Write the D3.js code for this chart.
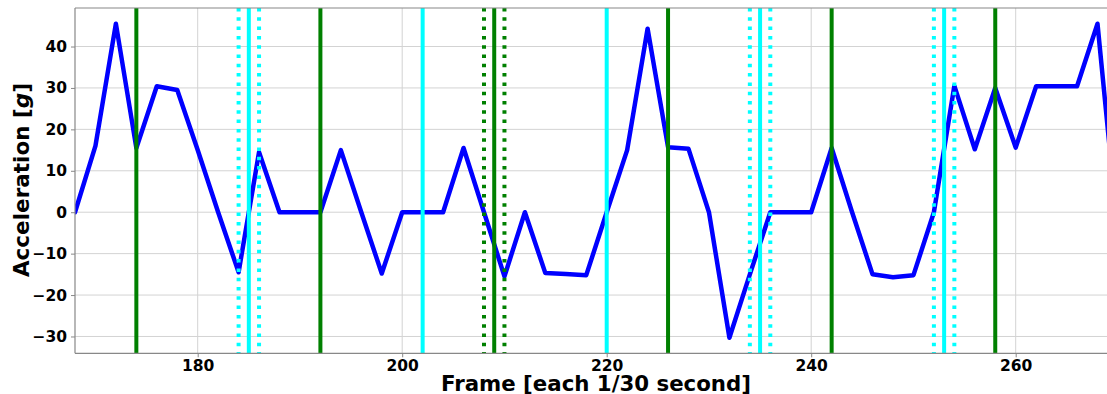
<!DOCTYPE html>
<html>
<head>
<meta charset="utf-8">
<script src="https://cdn.jsdelivr.net/npm/d3@7"></script>
<style>
  html, body { margin: 0; padding: 0; background: #fff; }
  svg { display: block; }
  text { font-family: "DejaVu Sans", sans-serif; font-weight: bold; fill: #000; }
</style>
</head>
<body>
<svg id="chart" width="1107" height="394"></svg>
<script>
// Acceleration samples, one every two frames
const frames = [168, 170, 172, 174, 176, 178, 180, 182, 184, 186, 188, 190, 192, 194, 196, 198,
  200, 202, 204, 206, 208, 210, 212, 214, 216, 218, 220, 222, 224, 226, 228, 230, 232, 234,
  236, 238, 240, 242, 244, 246, 248, 250, 252, 254, 256, 258, 260, 262, 264, 266, 268, 270];
const accel = [0, 16, 45.5, 15.5, 30.4, 29.5, 15, 0, -14.5, 14.5, 0, 0, 0, 15, 0, -14.8,
  0, 0, 0, 15.5, 0, -15.5, 0, -14.7, -14.9, -15.2, 0, 15, 44.3, 15.7, 15.3, 0, -30.3, -15,
  0, 0, 0, 15.5, 0, -15, -15.7, -15.2, 0, 30.5, 15.2, 30, 15.6, 30.4, 30.4, 30.4, 45.5, -5];

// Event markers
const greenSolid = [174, 192, 209, 226, 242, 258];
const greenDotted = [208, 210];
const cyanSolid = [185, 202, 220, 235, 253];
const cyanDotted = [184, 186, 234, 236, 252, 254];

const xTicks = [180, 200, 220, 240, 260];
const yTicks = [-30, -20, -10, 0, 10, 20, 30, 40];

const margin = { left: 75, top: 8, bottom: 353.3 };
const xDomain = [168, 270];
const pxPerFrame = 10.225;
const plotRight = margin.left + (xDomain[1] - xDomain[0]) * pxPerFrame;

const x = d3.scaleLinear().domain(xDomain).range([margin.left, plotRight]);
const y = d3.scaleLinear().domain([-34.06, 49.3]).range([margin.bottom, margin.top]);

const svg = d3.select("#chart");

svg.append("defs").append("clipPath").attr("id", "plot-clip")
  .append("rect")
  .attr("x", margin.left).attr("y", margin.top)
  .attr("width", plotRight - margin.left).attr("height", margin.bottom - margin.top);

// Grid
const grid = svg.append("g").attr("stroke", "#d3d3d3").attr("stroke-width", 1);
grid.selectAll("line.gx").data(xTicks).join("line")
  .attr("x1", d => x(d)).attr("x2", d => x(d))
  .attr("y1", margin.top).attr("y2", margin.bottom);
grid.selectAll("line.gy").data(yTicks).join("line")
  .attr("x1", margin.left).attr("x2", plotRight)
  .attr("y1", d => y(d)).attr("y2", d => y(d));

const plot = svg.append("g").attr("clip-path", "url(#plot-clip)");

// Acceleration trace
const line = d3.line().x((d, i) => x(frames[i])).y(d => y(d));
plot.append("path")
  .datum(accel)
  .attr("d", line)
  .attr("fill", "none")
  .attr("stroke", "#0000ff")
  .attr("stroke-width", 4.5)
  .attr("stroke-linejoin", "round")
  .attr("stroke-linecap", "round");

// Vertical markers
function vlines(data, color, dashed) {
  plot.append("g").selectAll("line").data(data).join("line")
    .attr("x1", d => x(d)).attr("x2", d => x(d))
    .attr("y1", margin.top).attr("y2", margin.bottom)
    .attr("stroke", color)
    .attr("stroke-width", 4)
    .attr("stroke-dasharray", dashed ? "3.5,5.8" : null);
}
vlines(greenDotted, "#008000", true);
vlines(cyanDotted, "#00ffff", true);
vlines(greenSolid, "#008000", false);
vlines(cyanSolid, "#00ffff", false);

// Axes
const xAxis = d3.axisBottom(x).tickValues(xTicks).tickSize(4).tickPadding(3)
  .tickFormat(d3.format("d"));
const yAxis = d3.axisLeft(y).tickValues(yTicks).tickSize(4).tickPadding(4)
  .tickFormat(d => d < 0 ? "\u2212" + Math.abs(d) : String(d));

const gx = svg.append("g").attr("transform", `translate(0,${margin.bottom})`).call(xAxis);
const gy = svg.append("g").attr("transform", `translate(${margin.left},0)`).call(yAxis);
[gx, gy].forEach(g => {
  g.select(".domain").remove();
  g.selectAll(".tick line").attr("stroke", "#888");
  g.selectAll(".tick text").attr("font-size", 15.5).attr("font-family", "DejaVu Sans")
    .attr("font-weight", "bold").attr("fill", "#000");
});

// Spines
svg.append("line").attr("x1", margin.left).attr("x2", margin.left)
  .attr("y1", margin.top).attr("y2", margin.bottom).attr("stroke", "#888").attr("stroke-width", 1.2);
svg.append("line").attr("x1", margin.left).attr("x2", plotRight)
  .attr("y1", margin.bottom).attr("y2", margin.bottom).attr("stroke", "#888").attr("stroke-width", 1.2);
svg.append("line").attr("x1", margin.left).attr("x2", plotRight)
  .attr("y1", margin.top).attr("y2", margin.top).attr("stroke", "#888").attr("stroke-width", 1.2);

// Axis labels
svg.append("text")
  .attr("x", 596).attr("y", 391)
  .attr("text-anchor", "middle")
  .attr("font-size", 21.3)
  .text("Frame [each 1/30 second]");

const yl = svg.append("text")
  .attr("transform", `translate(29,${180}) rotate(-90)`)
  .attr("text-anchor", "middle")
  .attr("font-size", 21.5);
yl.append("tspan").text("Acceleration [");
yl.append("tspan").attr("font-style", "italic").text("g");
yl.append("tspan").text("]");
</script>
</body>
</html>
